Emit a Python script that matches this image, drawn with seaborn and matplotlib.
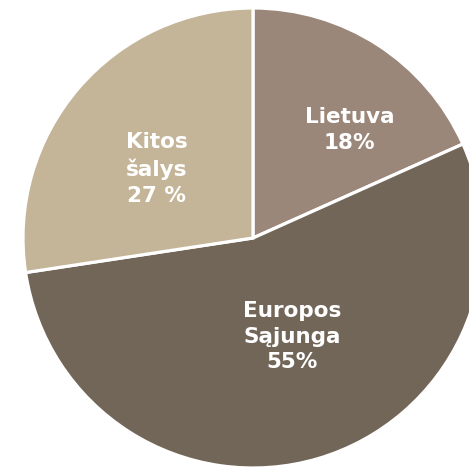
import matplotlib
matplotlib.use('Agg')
import matplotlib.pyplot as plt
import seaborn as sns

# duomenys (dalys ismatuotos is paveikslo, etiketes kaip originale)
kategorijos = ['Lietuva', 'Europos\nSąjunga', 'Kitos\nšalys']
dalys = [18.3, 54.3, 27.4]
etiketes = ['Lietuva\n18%', 'Europos\nSąjunga\n55%', 'Kitos\nšalys\n27 %']
spalvos = ['#9b8779', '#726658', '#c4b598']

sns.set_style('white')
plt.rcParams['font.family'] = ['DejaVu Sans']

fig = plt.figure(figsize=(4.69, 4.70), dpi=100)
ax = fig.add_axes([0, 0, 1, 1])

wedges, _ = ax.pie(dalys, colors=sns.color_palette(spalvos), startangle=90,
                   counterclock=False, radius=1,
                   wedgeprops=dict(edgecolor='white', linewidth=2.3))

# etikeciu vietos (santykinai su centru)
vietos = [(0.42, 0.47), (0.17, -0.43), (-0.42, 0.30)]
for tekstas, (x, y) in zip(etiketes, vietos):
    ax.text(x, y, tekstas, ha='center', va='center', color='white',
            fontsize=15.5, fontweight='bold', linespacing=1.35)

# pyragas nukirptas desineje ir apacioje
r_px = 230
ax.set_xlim(-253 / r_px, (469 - 253) / r_px)
ax.set_ylim(-(470 - 238) / r_px, 238 / r_px)
ax.set_aspect('auto')
ax.axis('off')

fig.savefig('out.png', dpi=100)
